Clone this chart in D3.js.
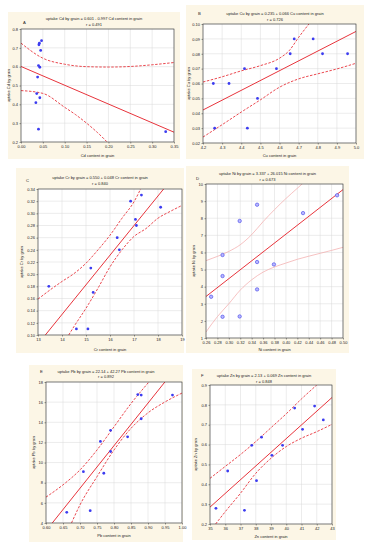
<!DOCTYPE html>
<html>
<head>
<meta charset="utf-8">
<script src="https://cdn.jsdelivr.net/npm/d3@7"></script>
<style>
  body { margin: 0; background: #fff; }
  text { font-family: "Liberation Sans", Arial, sans-serif; fill: #222; }
</style>
</head>
<body>
<svg id="chart" width="368" height="550"></svg>
<script>
// ---- data ----
// A: Cd
const cdContent = [0.047, 0.042, 0.041, 0.045, 0.040, 0.043, 0.038, 0.036, 0.043, 0.034, 0.040, 0.331];
const cdUptake = [0.738, 0.725, 0.716, 0.686, 0.606, 0.597, 0.545, 0.457, 0.435, 0.409, 0.268, 0.255];
const cdUpper = [[0, 0.725], [0.05, 0.645], [0.10, 0.613], [0.15, 0.600], [0.20, 0.598], [0.25, 0.601], [0.30, 0.610], [0.35, 0.622]];
const cdLower = [[0, 0.473], [0.05, 0.458], [0.10, 0.384], [0.125, 0.345], [0.15, 0.300], [0.175, 0.25], [0.197, 0.20]];
const cdFit = [0.601, -0.997];
const cdXTicks = [0, 0.05, 0.10, 0.15, 0.20, 0.25, 0.30, 0.35];
const cdYTicks = [0.2, 0.3, 0.4, 0.5, 0.6, 0.7, 0.8];

// B: Cu
const cuContent = [4.254, 4.336, 4.417, 4.261, 4.432, 4.485, 4.584, 4.656, 4.677, 4.776, 4.825, 4.956];
const cuUptake = [0.06, 0.06, 0.07, 0.03, 0.03, 0.05, 0.07, 0.08, 0.09, 0.09, 0.08, 0.08];
const cuUpper = [[4.2, 0.061], [4.3, 0.0645], [4.4, 0.0685], [4.5, 0.072], [4.6, 0.077], [4.65, 0.082], [4.7, 0.091], [4.76, 0.101]];
const cuLower = [[4.2, 0.024], [4.3, 0.0323], [4.4, 0.0408], [4.5, 0.049], [4.6, 0.0575], [4.7, 0.0631], [4.8, 0.0665], [4.9, 0.0698], [5.0, 0.0736]];
const cuFit = [-0.235, 0.066];
const cuXTicks = [4.2, 4.3, 4.4, 4.5, 4.6, 4.7, 4.8, 4.9, 5.0];
const cuYTicks = [0.02, 0.03, 0.04, 0.05, 0.06, 0.07, 0.08, 0.09, 0.10];

// C: Cr
const crContent = [13.45, 15.2, 15.3, 14.6, 15.08, 16.3, 16.39, 16.86, 17.31, 17.06, 17.1, 18.11];
const crUptake = [0.18, 0.21, 0.17, 0.11, 0.11, 0.26, 0.24, 0.32, 0.33, 0.29, 0.28, 0.31];
const crUpper = [[13, 0.159], [13.5, 0.174], [14, 0.188], [14.5, 0.201], [15, 0.218], [15.5, 0.24], [16, 0.264], [16.5, 0.292], [17, 0.319], [17.3, 0.342]];
const crLower = [[14.28, 0.10], [14.5, 0.114], [15, 0.144], [15.5, 0.177], [16, 0.212], [16.5, 0.24], [17, 0.262], [17.5, 0.275], [18, 0.292], [18.5, 0.303], [19, 0.313]];
const crFit = [-0.548, 0.0487];
const crXTicks = [13, 14, 15, 16, 17, 18, 19];
const crYTicks = [0.10, 0.12, 0.14, 0.16, 0.18, 0.20, 0.22, 0.24, 0.26, 0.28, 0.30, 0.32, 0.34];

// D: Ni
const niContent = [0.269, 0.289, 0.289, 0.289, 0.319, 0.319, 0.3495, 0.3495, 0.3495, 0.379, 0.43, 0.4896];
const niUptake = [3.41, 2.24, 4.62, 5.85, 2.26, 7.84, 8.79, 5.44, 3.84, 5.30, 8.30, 9.34];
const niUpper = [[0.26, 5.52], [0.28, 5.77], [0.30, 6.06], [0.32, 6.45], [0.34, 7.04], [0.36, 7.8], [0.38, 8.5], [0.40, 9.15], [0.42, 9.75], [0.43, 10.05]];
const niLower = [[0.26, 1.35], [0.28, 2.25], [0.30, 3.0], [0.32, 3.8], [0.34, 4.4], [0.36, 4.85], [0.38, 5.15], [0.40, 5.38], [0.42, 5.6], [0.44, 5.78], [0.46, 5.95], [0.48, 6.12], [0.50, 6.3]];
const niFit = [-3.337, 26.015];
const niXTicks = [0.26, 0.28, 0.30, 0.32, 0.34, 0.36, 0.38, 0.40, 0.42, 0.44, 0.46, 0.48, 0.50];
const niYTicks = [1, 2, 3, 4, 5, 6, 7, 8, 9, 10];

// E: Pb
const pbContent = [0.661, 0.730, 0.710, 0.770, 0.760, 0.790, 0.790, 0.840, 0.870, 0.880, 0.880, 0.972];
const pbUptake = [5.06, 5.22, 9.1, 8.94, 12.1, 11.1, 13.2, 12.56, 16.75, 16.7, 14.35, 16.7];
const pbUpper = [[0.60, 6.57], [0.65, 7.79], [0.70, 9.27], [0.75, 11.25], [0.80, 13.55], [0.85, 15.86], [0.90, 17.9], [0.905, 18.1]];
const pbLower = [[0.675, 4], [0.70, 5.8], [0.75, 8.6], [0.80, 11.25], [0.85, 13.4], [0.90, 14.94], [0.95, 16.02], [1.00, 16.9]];
const pbFit = [-22.14, 42.27];
const pbXTicks = [0.60, 0.65, 0.70, 0.75, 0.80, 0.85, 0.90, 0.95, 1.00];
const pbYTicks = [4, 6, 8, 10, 12, 14, 16, 18];

// F: Zn
const znContent = [35.39, 36.16, 37.26, 37.74, 38.05, 38.38, 39.06, 39.76, 40.55, 41.07, 41.86, 42.43];
const znUptake = [0.279, 0.467, 0.269, 0.596, 0.418, 0.637, 0.546, 0.596, 0.784, 0.677, 0.794, 0.724];
const znUpper = [[35, 0.43], [36, 0.49], [37, 0.55], [38, 0.615], [39, 0.685], [40, 0.755], [41, 0.83], [42, 0.9]];
const znLower = [[35.37, 0.2], [36, 0.262], [37, 0.355], [38, 0.455], [39, 0.531], [40, 0.59], [41, 0.632], [42, 0.665], [43, 0.702]];
const znFit = [-2.13, 0.069];
const znXTicks = [35, 36, 37, 38, 39, 40, 41, 42, 43];
const znYTicks = [0.2, 0.3, 0.4, 0.5, 0.6, 0.7, 0.8, 0.9];

const letters = ["A", "B", "C", "D", "E", "F"];
const titles = [
  "uptake Cd by grain = 0.601 - 0.997 Cd content in grain",
  "uptake Cu by grain = 0.235 + 0.066 Cu content in grain",
  "uptake Cr by grain = 0.550 + 0.048 Cr content in grain",
  "uptake Ni by grain = 3.337 + 26.015 Ni content in grain",
  "uptake Pb by grain = 22.14 + 42.27 Pb content in grain",
  "uptake Zn by grain = 2.13 + 0.069 Zn content in grain"
];
const rLabels = ["r =  0.491", "r =  0.726", "r =  0.840", "r =  0.673", "r =  0.892", "r =  0.848"];
const xTitles = ["Cd content in grain", "Cu content in grain", "Cr content in grain", "Ni content in grain", "Pb content in grain", "Zn content in grain"];
const yTitles = ["uptake Cd by grain", "uptake Cu by grain", "uptake Cr by grain", "uptake Ni by grain", "uptake Pb by grain", "uptake Zn by grain"];

// ---- layout (pixels) ----
const layout = [
  { card: [8, 12, 180, 159], plot: [21, 29, 174, 142], titleY: 19.5, rY: 25.5, letter: [23, 23.5], xlabY: 156.5, ylabX: 10 },
  { card: [186, 5, 364, 159], plot: [203, 24, 356, 143], titleY: 14.5, rY: 20.5, letter: [198, 15], xlabY: 156.5, ylabX: 190 },
  { card: [16, 168, 184, 353], plot: [38, 189, 182, 335], titleY: 178.5, rY: 184.5, letter: [26, 181.5], xlabY: 350.5, ylabX: 23 },
  { card: [186, 166, 349, 353], plot: [206, 184, 343, 338], titleY: 174.5, rY: 180.5, letter: [196, 179.5], xlabY: 350.5, ylabX: 195 },
  { card: [29, 365, 183, 542], plot: [46, 382, 182, 523], titleY: 372.5, rY: 377.5, letter: [40, 372.5], xlabY: 536.5, ylabX: 35 },
  { card: [192, 369, 336, 540], plot: [210, 385, 332, 524], titleY: 376.5, rY: 382.5, letter: [201, 376.5], xlabY: 537.5, ylabX: 197 }
];

const panels = [
  { xs: cdContent, ys: cdUptake, up: cdUpper, lo: cdLower, fit: cdFit, xt: cdXTicks, yt: cdYTicks, xf: ".2f", yf: ".1f" },
  { xs: cuContent, ys: cuUptake, up: cuUpper, lo: cuLower, fit: cuFit, xt: cuXTicks, yt: cuYTicks, xf: ".1f", yf: ".2f" },
  { xs: crContent, ys: crUptake, up: crUpper, lo: crLower, fit: crFit, xt: crXTicks, yt: crYTicks, xf: "d", yf: ".2f" },
  { xs: niContent, ys: niUptake, up: niUpper, lo: niLower, fit: niFit, xt: niXTicks, yt: niYTicks, xf: ".2f", yf: "d", open: true },
  { xs: pbContent, ys: pbUptake, up: pbUpper, lo: pbLower, fit: pbFit, xt: pbXTicks, yt: pbYTicks, xf: ".2f", yf: "d" },
  { xs: znContent, ys: znUptake, up: znUpper, lo: znLower, fit: znFit, xt: znXTicks, yt: znYTicks, xf: "d", yf: ".1f" }
];

const svg = d3.select("#chart");
const red = "#e8343c";

panels.forEach((p, i) => {
  const L = layout[i];
  const [cx0, cy0, cx1, cy1] = L.card;
  const [px0, py0, px1, py1] = L.plot;
  const mid = (cx0 + cx1) / 2;
  const g = svg.append("g");

  g.append("rect")
    .attr("x", cx0).attr("y", cy0)
    .attr("width", cx1 - cx0).attr("height", cy1 - cy0)
    .attr("fill", "#fcf6e6");

  const x = d3.scaleLinear().domain(d3.extent(p.xt)).range([px0, px1]);
  const y = d3.scaleLinear().domain(d3.extent(p.yt)).range([py1, py0]);

  g.append("rect")
    .attr("x", px0).attr("y", py0)
    .attr("width", px1 - px0).attr("height", py1 - py0)
    .attr("fill", "#fff");

  // grid
  g.selectAll(".gx").data(p.xt).enter().append("line")
    .attr("x1", (d) => x(d)).attr("x2", (d) => x(d))
    .attr("y1", py0).attr("y2", py1)
    .attr("stroke", "#d8d8d8").attr("stroke-width", 0.5);
  g.selectAll(".gy").data(p.yt).enter().append("line")
    .attr("y1", (d) => y(d)).attr("y2", (d) => y(d))
    .attr("x1", px0).attr("x2", px1)
    .attr("stroke", "#d8d8d8").attr("stroke-width", 0.5);

  const clipId = "clip" + i;
  g.append("clipPath").attr("id", clipId)
    .append("rect")
    .attr("x", px0).attr("y", py0)
    .attr("width", px1 - px0).attr("height", py1 - py0);
  const inner = g.append("g").attr("clip-path", `url(#${clipId})`);

  const line = d3.line()
    .x((d) => x(d[0])).y((d) => y(d[1]))
    .curve(d3.curveMonotoneX);

  [p.up, p.lo].forEach((band) => {
    inner.append("path")
      .attr("d", line(band))
      .attr("fill", "none")
      .attr("stroke", p.open ? "#f2a8a8" : red)
      .attr("stroke-width", p.open ? 0.7 : 0.9)
      .attr("stroke-dasharray", p.open ? null : "2.5,1.5");
  });

  const dom = x.domain();
  const fitPts = dom.map((v) => [v, p.fit[0] + p.fit[1] * v]);
  inner.append("path")
    .attr("d", d3.line().x((d) => x(d[0])).y((d) => y(d[1]))(fitPts))
    .attr("fill", "none")
    .attr("stroke", red)
    .attr("stroke-width", 1);

  const pts = p.xs.map((v, k) => [v, p.ys[k]]);
  if (p.open) {
    g.selectAll(".pt").data(pts).enter().append("circle")
      .attr("cx", (d) => x(d[0])).attr("cy", (d) => y(d[1]))
      .attr("r", 1.7)
      .attr("fill", "#b8b8ff").attr("stroke", "#4040e8").attr("stroke-width", 0.6);
  } else {
    g.selectAll(".pt").data(pts).enter().append("circle")
      .attr("cx", (d) => x(d[0])).attr("cy", (d) => y(d[1]))
      .attr("r", 1.4)
      .attr("fill", "#3c3cf0");
  }

  g.append("rect")
    .attr("x", px0).attr("y", py0)
    .attr("width", px1 - px0).attr("height", py1 - py0)
    .attr("fill", "none").attr("stroke", "#333").attr("stroke-width", 0.6);

  // axes
  const xAxis = d3.axisBottom(x).tickValues(p.xt).tickFormat(d3.format(p.xf))
    .tickSizeInner(1.5).tickSizeOuter(0).tickPadding(1.5);
  const xG = g.append("g").attr("transform", `translate(0,${py1})`).call(xAxis);
  const yAxis = d3.axisLeft(y).tickValues(p.yt).tickFormat(d3.format(p.yf))
    .tickSizeInner(1.5).tickSizeOuter(0).tickPadding(1.5);
  const yG = g.append("g").attr("transform", `translate(${px0},0)`).call(yAxis);
  [xG, yG].forEach((a) => {
    a.select(".domain").remove();
    a.selectAll("line").attr("stroke", "#333").attr("stroke-width", 0.5);
    a.selectAll("text").attr("font-size", 4).attr("fill", "#222")
      .style("font-family", "'Liberation Sans', Arial, sans-serif");
  });

  // texts
  g.append("text").attr("x", mid).attr("y", L.titleY)
    .attr("text-anchor", "middle").attr("font-size", 4).text(titles[i]);
  g.append("text").attr("x", mid).attr("y", L.rY)
    .attr("text-anchor", "middle").attr("font-size", 4).text(rLabels[i]);
  g.append("text").attr("x", L.letter[0]).attr("y", L.letter[1])
    .attr("font-size", 4.2).text(letters[i]);
  g.append("text").attr("x", (px0 + px1) / 2).attr("y", L.xlabY)
    .attr("text-anchor", "middle").attr("font-size", 4).text(xTitles[i]);
  g.append("text")
    .attr("transform", `translate(${L.ylabX},${(py0 + py1) / 2}) rotate(-90)`)
    .attr("text-anchor", "middle").attr("font-size", 4).text(yTitles[i]);
});
</script>
</body>
</html>
